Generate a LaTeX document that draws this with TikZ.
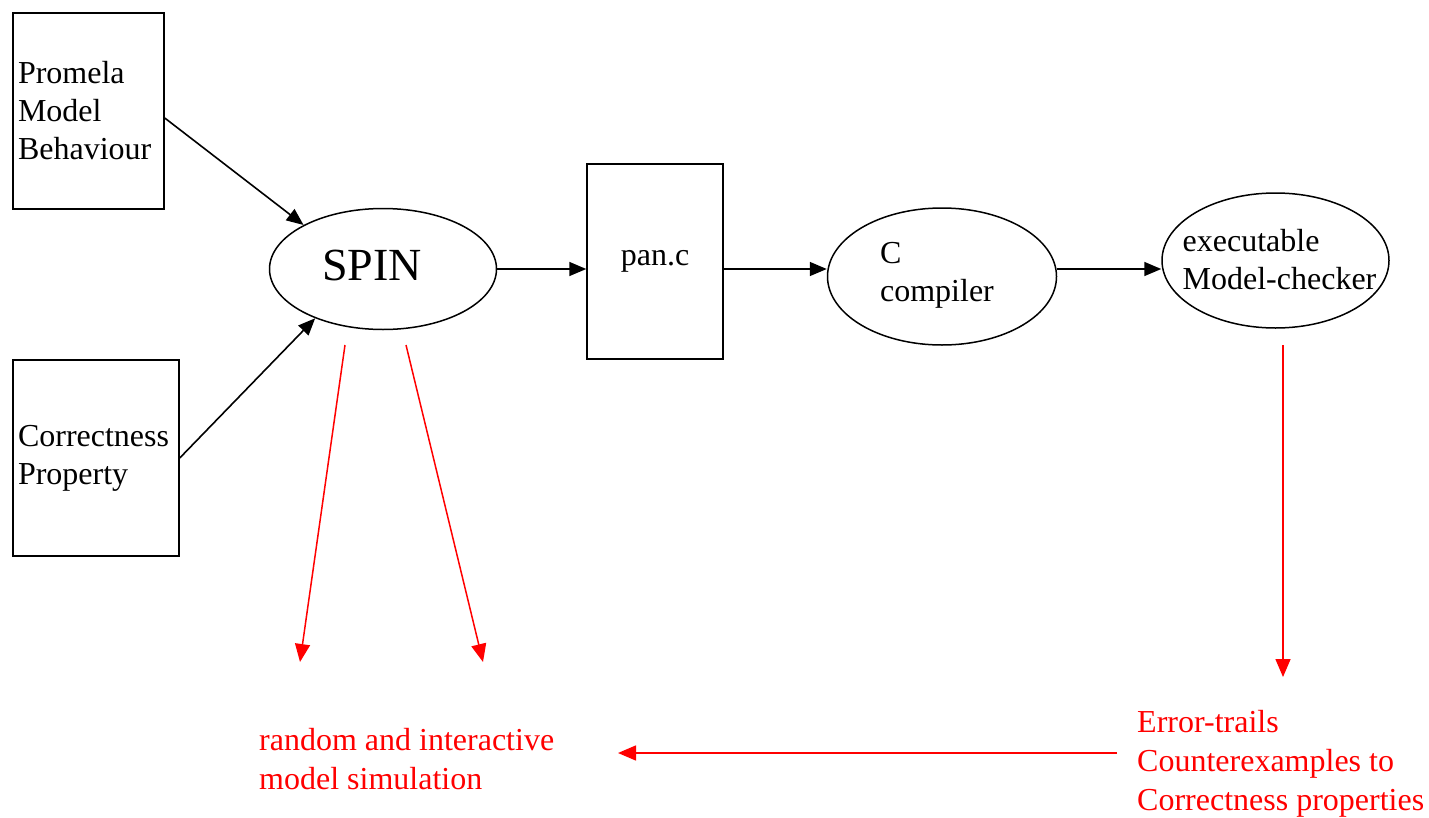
\documentclass[tikz,border=0pt]{standalone}
\usepackage{fontspec}
\setmainfont{Liberation Serif}
\usetikzlibrary{arrows.meta,shapes.geometric}

\tikzset{
  srcbox/.style={draw, line width=1.5pt, inner xsep=5pt, align=left,
    minimum height=196pt, font=\fontsize{32}{38}\selectfont},
  procshape/.style={draw, ellipse, line width=1.5pt, inner sep=0pt},
  proctext/.style={align=left, inner sep=0pt, font=\fontsize{32}{38}\selectfont},
  flow/.style={line width=1.6pt, -{Triangle[length=17pt, width=14pt]}},
  outflow/.style={red, line width=1.5pt, -{Triangle[length=18pt, width=15pt]}},
  outtext/.style={red, align=left, inner sep=0pt, font=\fontsize{32}{39}\selectfont}
}

\begin{document}
\begin{tikzpicture}[x=1pt, y=-1pt]
  \useasboundingbox (0,0) rectangle (1429,817);
  % --- inputs ---
  \node[srcbox, text width=141pt] (model) at (88.5,111) {Promela\\Model\\Behaviour};
  \node[srcbox, text width=156pt] (prop) at (96,458) {Correctness\\Property};
  % --- tool chain ---
  \node[procshape, minimum width=227pt, minimum height=121pt] (spin) at (383,269) {};
  \node[font=\fontsize{46}{52}\selectfont, inner sep=0pt] (spinlabel) at ([xshift=-11pt,yshift=4pt]spin.center) {SPIN};
  \node[draw, line width=1.5pt, minimum width=136pt, minimum height=195pt,
    font=\fontsize{32}{38}\selectfont] (panc) at (655,261.5) {pan.c};
  \node[procshape, minimum width=229pt, minimum height=137pt] (ccomp) at (942,276.5) {};
  \node[proctext] (ccomplabel) at ([xshift=-5pt,yshift=1pt]ccomp.center) {C\\compiler};
  \node[procshape, minimum width=227pt, minimum height=135pt] (exe) at (1275.5,260.5) {};
  \node[proctext] (exelabel) at ([xshift=4pt,yshift=1pt]exe.center) {executable\\Model-checker};
  % --- results ---
  \node[outtext, anchor=west] (simtext) at (259,759) {random and interactive\\model simulation};
  \node[outtext, anchor=west] (errtext) at (1137,764) {Error-trails\\Counterexamples to\\Correctness properties};
  % free ends of the red arrows
  \coordinate (simfromA) at (345,345);
  \coordinate (simtoA) at (300,662);
  \coordinate (simfromB) at (406,345);
  \coordinate (simtoB) at (483,662);
  \coordinate (errfrom) at (1283,345);
  \coordinate (errto) at (1283,677);
  \coordinate (trailfrom) at (1117,753);
  \coordinate (trailto) at (618,753);
  % --- connectors ---
  \draw[flow] ([yshift=-7pt]model.east) -- (spin.151);
  \draw[flow] (prop.east) -- (spin.216);
  \draw[flow] (spin.east) -- (spin.east -| panc.west);
  \draw[flow] (panc.east |- spin.east) -- (ccomp.west |- spin.east);
  \draw[flow] (ccomp.east |- spin.east) -- (exe.west |- spin.east);
  \draw[outflow] (simfromA) -- (simtoA);
  \draw[outflow] (simfromB) -- (simtoB);
  \draw[outflow] (errfrom) -- (errto);
  \draw[outflow] (trailfrom) -- (trailto);
\end{tikzpicture}
\end{document}
